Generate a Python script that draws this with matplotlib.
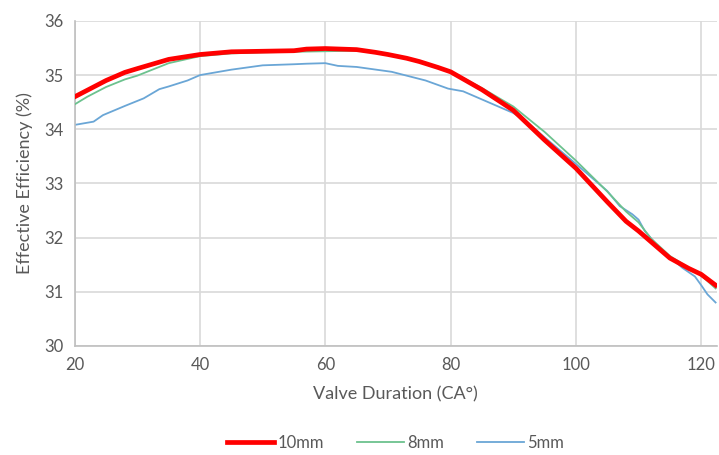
import matplotlib.pyplot as plt

# valve duration (CA deg) and effective efficiency (%)
x_10mm = [20, 22, 25, 28, 30, 35, 40, 45, 50, 55, 57, 60, 65, 68, 70, 73, 75,
          78, 80, 85, 90, 95, 100, 105, 108, 110, 112, 115, 118, 120, 122.3]
eff_10mm = [34.6, 34.72, 34.9, 35.05, 35.12, 35.29, 35.38, 35.43, 35.44, 35.45,
            35.48, 35.49, 35.47, 35.42, 35.38, 35.31, 35.25, 35.14, 35.06, 34.73,
            34.35, 33.8, 33.28, 32.66, 32.3, 32.12, 31.92, 31.62, 31.43, 31.32,
            31.12]

x_8mm = [20, 22, 25, 28, 30, 35, 40, 45, 50, 55, 60, 65, 68, 70, 73, 75, 78,
         80, 85, 90, 95, 100, 105, 108, 110, 112, 115, 118, 120, 122.3]
eff_8mm = [34.46, 34.6, 34.78, 34.92, 34.99, 35.22, 35.35, 35.4, 35.42, 35.43,
           35.44, 35.45, 35.42, 35.38, 35.31, 35.25, 35.14, 35.07, 34.76, 34.42,
           33.95, 33.42, 32.85, 32.48, 32.28, 31.98, 31.66, 31.44, 31.3, 31.06]

x_5mm = [20, 23, 24.5, 28, 31, 33.5, 35, 38, 40, 45, 50, 55, 57, 60, 62, 65,
         70.6, 76, 79.6, 82, 85, 90, 92, 95, 100, 105, 107, 109, 110, 111, 113,
         115, 117, 119, 120, 121, 122.3]
eff_5mm = [34.08, 34.14, 34.26, 34.43, 34.57, 34.74, 34.79, 34.9, 35.0, 35.1,
           35.18, 35.2, 35.21, 35.22, 35.17, 35.15, 35.06, 34.9, 34.75, 34.7,
           34.55, 34.3, 34.15, 33.85, 33.36, 32.86, 32.58, 32.43, 32.33, 32.12,
           31.85, 31.64, 31.44, 31.28, 31.12, 30.95, 30.8]

plt.rcParams['font.family'] = ['Lato', 'DejaVu Sans']
text_col = '#595959'

fig = plt.figure(figsize=(7.19, 4.55), dpi=100)
ax = fig.add_axes([0.104, 0.24, 0.893, 0.714])

ax.plot(x_10mm, eff_10mm, color='#FF0000', lw=3.4, label='10mm', zorder=4)
ax.plot(x_8mm, eff_8mm, color='#6CC28E', lw=1.3, label='8mm', zorder=3)
ax.plot(x_5mm, eff_5mm, color='#6AA6D6', lw=1.3, label='5mm', zorder=2)

ax.set_xlim(20, 122.5)
ax.set_ylim(30, 36)
ax.set_xticks([20, 40, 60, 80, 100, 120])
ax.set_yticks([30, 31, 32, 33, 34, 35, 36])
ax.grid(True, color='#D9D9D9', lw=1.2)
ax.set_axisbelow(True)
for s in ['top', 'right']:
    ax.spines[s].set_visible(False)
for s in ['left', 'bottom']:
    ax.spines[s].set_color('#BFBFBF')
    ax.spines[s].set_linewidth(1.2)
ax.tick_params(length=0, labelsize=12, colors=text_col, pad=8)

ax.set_xlabel('Valve Duration (CA°)', fontsize=13, color=text_col, labelpad=10)
ax.set_ylabel('Effective Efficiency (%)', fontsize=13, color=text_col, labelpad=8)

ax.legend(loc='center', bbox_to_anchor=(0.5, -0.298), ncol=3, frameon=False,
          fontsize=12, labelcolor=text_col, handlelength=2.8, columnspacing=2.0,
          handletextpad=0.2)

fig.savefig('out.png', dpi=100)
